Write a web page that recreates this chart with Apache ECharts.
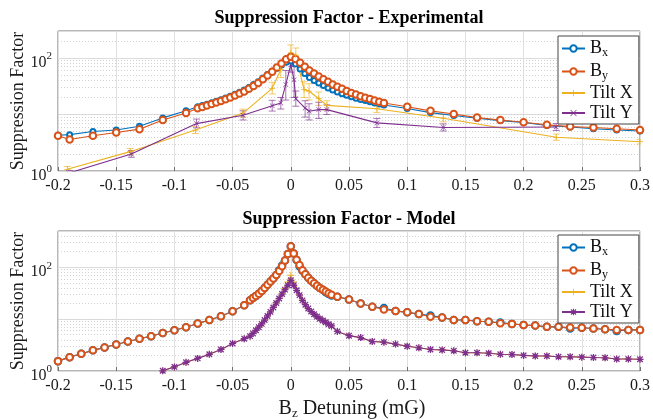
<!DOCTYPE html>
<html><head><meta charset="utf-8">
<script src="https://cdn.jsdelivr.net/npm/echarts@6/dist/echarts.min.js"></script>
<style>html,body{margin:0;padding:0;background:#fff}#c{width:653px;height:420px}</style>
</head><body><div id="c"></div>
<script>
// ---------------- Experimental (top) ----------------
const expLeftX  = [-0.2, -0.19, -0.17, -0.15, -0.13, -0.11, -0.09];
const expBxLeft = [4.3, 4.4, 5.0, 5.3, 6.2, 8.7, 11.6];
const expByLeft = [4.2, 3.6, 4.2, 4.8, 5.5, 8.0, 10.6];
const expDenseX = [-0.08,-0.076,-0.072,-0.068,-0.064,-0.06,-0.056,-0.052,-0.048,-0.044,-0.04,-0.036,-0.032,-0.028,-0.024,-0.02,-0.016,-0.012,-0.008,-0.004,0,
                   0.004,0.008,0.012,0.016,0.02,0.024,0.028,0.032,0.036,0.04,0.044,0.048,0.052,0.056,0.06,0.064,0.068,0.072,0.076,0.08];
const expBxDense = [13.7,14.4,15.2,16.1,17.1,18.2,19.5,21,22.8,24.8,27,30,34,38,44,51,58,66,75,84,88,
                    78,64,53,45,40,36,32.5,29.5,27,25,23.2,21.8,20.5,19.4,18.5,17.6,16.8,16,15.3,14.7];
const expByDense = [12.9,13.6,14.4,15.3,16.3,17.4,18.6,20,21.6,23.5,25.6,28.5,32,36,42,49,57,68,80,95,105,
                    96,82,70,60,53,47,42,38,34,31,28.5,26,24,22.5,21,19.8,18.7,17.7,16.8,16];
const expRightX  = [0.1, 0.12, 0.14, 0.16, 0.18, 0.2, 0.22, 0.24, 0.26, 0.28, 0.3];
const expBxRight = [12.8, 10.8, 9.6, 8.6, 7.8, 7.2, 6.4, 6.0, 5.6, 5.3, 5.1];
const expByRight = [13.7, 11.6, 10.2, 8.8, 8.0, 7.3, 6.6, 6.1, 5.9, 5.6, 5.3];

const expTxX  = [-0.192,-0.138,-0.082,-0.041,-0.016,-0.0086,0,0.0043,0.0114,0.0157,0.024,0.031,0.074,0.131,0.228,0.3];
const expTxY  = [1.07, 2.2, 5.3, 10.6, 29, 62, 125, 112, 27.5, 26, 19, 14.5, 12.6, 8.6, 3.95, 3.3];
const expTxLo = [0.95, 1.95, 4.6, 9.0, 23, 45, 92, 85, 20, 18, 14.5, 12, 10.8, 7.4, 3.5, 3.0];
const expTxHi = [1.2, 2.5, 6.1, 12.4, 37, 85, 170, 150, 38, 35, 25, 17.5, 14.8, 10, 4.5, 3.6];

const expTyX  = [-0.19,-0.137,-0.081,-0.041,-0.016,-0.0086,-0.0043,0,0.0028,0.0043,0.0123,0.0157,0.024,0.031,0.074,0.131,0.228];
const expTyY  = [0.93, 2.0, 6.9, 9.7, 14.3, 16, 34, 76, 41, 19, 13, 11.4, 12.2, 12.2, 7.1, 5.9, 6.0];
const expTyLo = [0.85, 1.75, 5.8, 8.0, 11.5, 12.5, 18, 56, 20, 14, 9, 8, 8.5, 10, 5.9, 5.1, 5.2];
const expTyHi = [1.02, 2.3, 8.3, 11.6, 17.8, 20, 60, 105, 72, 26, 17.5, 15.5, 16.5, 14.8, 8.5, 6.8, 6.9];

// ---------------- Model (bottom) ----------------
const modLeftX  = [-0.2,-0.19,-0.18,-0.17,-0.16,-0.15,-0.14,-0.13,-0.12,-0.11,-0.1,-0.09,-0.08,-0.07,-0.06,-0.05,-0.04];
const modByLeft = [1.55,1.85,2.15,2.5,2.85,3.25,3.7,4.2,4.7,5.4,6.1,7.0,8.2,9.6,11.4,14.2,18.6];
const modBxLeft = [1.55,1.85,2.15,2.5,2.85,3.25,3.7,4.2,4.7,5.4,6.1,7.0,8.2,9.6,11.4,14.2,18.6];
const modDenseX = [-0.035,-0.0325,-0.03,-0.0275,-0.025,-0.0225,-0.02,-0.0175,-0.015,-0.0125,-0.01,-0.0075,-0.005,-0.0025,0,
                   0.0025,0.005,0.0075,0.01,0.0125,0.015,0.0175,0.02,0.0225,0.025,0.0275,0.03,0.0325,0.035];
const modByDense = [23,25.5,28,31,35,40,46,53,61,71,85,105,135,180,255,185,140,110,88,73,63,55,49,44,40,37,34,31.5,29.5];
const modBxDense = [23,25.5,28,31,35,40,46,53,61,71,88,108,135,180,255,185,138,104,86,73,63,55,49,44,40,37,33,30.5,28.5];
const modRightX  = [0.04,0.05,0.06,0.07,0.08,0.09,0.1,0.11,0.12,0.13,0.14,0.15,0.16,0.17,0.18,0.19,0.2,0.21,0.22,0.23,0.24,0.25,0.26,0.27,0.28,0.29,0.3];
const modByRight = [27,24,20,17.3,15.4,14.4,13.5,12.5,11.1,10.8,9.6,9.6,9.1,8.9,8.3,8.1,7.7,7.5,7.1,7.1,6.9,6.8,6.6,6.4,6.2,6.2,6.2];
const modBxRight = [27,24,20,17.3,16.3,14.4,13.5,12.5,11.7,10.8,9.6,9.6,9.1,8.9,8.6,8.1,7.7,7.5,7.1,7.1,6.6,6.8,6.6,6.4,5.9,6.2,6.2];

const modTiltLeftX = [-0.11,-0.1,-0.09,-0.08,-0.07,-0.06,-0.05,-0.04];
const modTyLeft = [1.01,1.2,1.47,1.75,2.1,2.6,3.4,4.2];
const modTxLeft = [1.01,1.2,1.47,1.75,2.1,2.6,3.4,4.2];
const modTyDense = [4.7,5.3,6.1,7.0,8.1,9.6,11.5,13.8,16.8,20.5,25,30.5,37,45,56,45,36,29,23,19,16,14,12.4,11.2,10.2,9.4,8.7,8.0,7.4];
const modTxDense = [4.7,5.3,6.1,7.0,8.1,9.6,11.5,13.8,16.8,20.5,25,31,39,52,70,52,39,30,23.5,19,16,14,12.4,11.2,10.2,9.4,8.7,8.0,7.4];
const modTyRight = [5.8,4.8,4.4,3.7,3.6,3.3,3.0,2.8,2.6,2.55,2.45,2.25,2.25,2.2,2.1,2.08,2.0,1.95,1.95,1.88,1.88,1.85,1.82,1.8,1.7,1.7,1.68];
const modTxRight = [5.8,4.8,4.4,3.7,3.6,3.3,3.0,2.8,2.6,2.55,2.45,2.25,2.25,2.2,2.1,2.08,2.0,1.95,1.95,1.88,1.88,1.85,1.82,1.8,1.7,1.7,1.68];

// axis / grid lines
const minorTop = [2,3,4,5,6,7,8,9,10,20,30,40,50,60,70,80,90,200];
const minorBot = [2,3,4,5,6,7,8,9,10,20,30,40,50,60,70,80,90,200,300,400];

// ---------------- styling ----------------
const C = {bx:'#0072BD', by:'#D95319', tx:'#EDB120', ty:'#7E2F8E'};
const FONT = 'Liberation Serif';
const SYM_PLUS = 'path://M4.4,0H5.6V4.4H10V5.6H5.6V10H4.4V5.6H0V4.4H4.4Z';
const SYM_X = 'path://M0,0.8L0.8,0L5,4.2L9.2,0L10,0.8L5.8,5L10,9.2L9.2,10L5,5.8L0.8,10L0,9.2L4.2,5Z';
const SYM_STAR = 'path://M4.1,0H5.9V4.1H10V5.9H5.9V10H4.1V5.9H0V4.1H4.1Z M0.4,1.7L1.7,0.4L5,3.7L8.3,0.4L9.6,1.7L6.3,5L9.6,8.3L8.3,9.6L5,6.3L1.7,9.6L0.4,8.3L3.7,5Z';

function zip(xs, ys){ return xs.map((x,i)=>[x, ys[i]]); }
function zip3(xs, a, b){ return xs.map((x,i)=>[x, a[i], b[i]]); }

function lineS(name, idx, xs, ys, color, symbol, size){
  const empty = symbol === 'emptyCircle';
  return {
    name, type:'line', xAxisIndex:idx, yAxisIndex:idx, data: zip(xs, ys),
    symbol, symbolSize:size, showAllSymbol:true, clip:true, z:3,
    lineStyle:{color, width:1.1},
    itemStyle: empty ? {color, borderColor:color, borderWidth:0.8} : {color, borderWidth:0},
    emphasis:{disabled:true}, animation:false
  };
}
function errS(idx, xs, lo, hi, color){
  return {
    type:'custom', xAxisIndex:idx, yAxisIndex:idx, data: zip3(xs, lo, hi), clip:true, z:3,
    encode:{x:0, y:[1,2]}, silent:true, animation:false,
    renderItem(params, api){
      const x = api.value(0), l = api.value(1), h = api.value(2);
      const a = api.coord([x, l]), b = api.coord([x, h]);
      const w = 3.5, st = {stroke:color, lineWidth:1, opacity:0.65};
      return {type:'group', children:[
        {type:'line', shape:{x1:a[0],y1:a[1],x2:b[0],y2:b[1]}, style:st},
        {type:'line', shape:{x1:a[0]-w,y1:a[1],x2:a[0]+w,y2:a[1]}, style:st},
        {type:'line', shape:{x1:b[0]-w,y1:b[1],x2:b[0]+w,y2:b[1]}, style:st}
      ]};
    }
  };
}
function minorS(idx, list){
  return {
    type:'line', xAxisIndex:idx, yAxisIndex:idx, data:[], silent:true, z:1,
    markLine:{silent:true, symbol:['none','none'], z:1, animation:false, label:{show:false},
      lineStyle:{color:'#d2d2d2', type:[1,2], width:1}, emphasis:{disabled:true},
      data: list.map(v=>({yAxis:v}))}
  };
}

const grids = [
  {left:58, top:31, width:582, height:140, show:true, borderColor:'#707070', borderWidth:1},
  {left:58, top:231, width:582, height:140, show:true, borderColor:'#707070', borderWidth:1}
];
function xAx(idx){
  return {type:'value', gridIndex:idx, min:-0.2, max:0.3, interval:0.05,
    axisLine:{show:false}, axisTick:{show:true, inside:true, length:4, lineStyle:{color:'#707070'}},
    splitLine:{show:true, lineStyle:{color:'#e0e0e0', width:1}},
    axisLabel:{fontFamily:FONT, fontSize:16, color:'#1a1a1a', margin:7,
      formatter:v=>String(+(+v).toFixed(3))}};
}
function yAx(idx, max){
  return {type:'log', logBase:10, gridIndex:idx, min:1, max:max,
    axisLine:{show:false}, axisTick:{show:false},
    splitLine:{show:true, lineStyle:{color:'#dcdcdc', width:1}},
    axisLabel:{fontFamily:FONT, fontSize:16, color:'#1a1a1a', margin:6, align:'right',
      formatter:v=>{ const e=Math.log10(v), r=Math.round(e);
        if (Math.abs(e-r)<1e-6 && r%2===0) return '{n|10}{s|'+r+'}'; return ''; },
      rich:{n:{fontFamily:FONT, fontSize:16, color:'#1a1a1a', lineHeight:16, padding:[9,0,0,0]},
            s:{fontFamily:FONT, fontSize:11, color:'#1a1a1a', lineHeight:16, padding:[0,0,3,0]}}}};
}
const legendRich = {
  m:{fontFamily:FONT, fontSize:18, color:'#111', lineHeight:18},
  s:{fontFamily:FONT, fontSize:12, color:'#111', lineHeight:18, padding:[9,0,0,0]}
};
const legendNames = {Bx:'{m|B}{s|x}', By:'{m|B}{s|y}', TX:'{m|Tilt X}', TY:'{m|Tilt Y}',
                     Bx2:'{m|B}{s|x}', By2:'{m|B}{s|y}', TX2:'{m|Tilt X}', TY2:'{m|Tilt Y}'};
function legend(top, names){
  return {data:names, orient:'vertical', left:558, top:top, selectedMode:false,
    backgroundColor:'#fff', borderColor:'#444', borderWidth:1, padding:[2,6,2,3],
    itemGap:2, itemWidth:23, itemHeight:8,
    formatter:n=>legendNames[n], textStyle:{fontFamily:FONT, fontSize:18, color:'#111', rich:legendRich}};
}

const option = {
  animation:false,
  backgroundColor:'#fff',
  grid: grids,
  xAxis:[xAx(0), xAx(1)],
  yAxis:[yAx(0,300), yAx(1,500)],
  legend:[legend(36, ['Bx','By','TX','TY']), legend(235, ['Bx2','By2','TX2','TY2'])],
  series:[
    minorS(0, minorTop), minorS(1, minorBot),
    lineS('Bx', 0, expLeftX.concat(expDenseX, expRightX), expBxLeft.concat(expBxDense, expBxRight), C.bx, 'emptyCircle', 5),
    lineS('By', 0, expLeftX.concat(expDenseX, expRightX), expByLeft.concat(expByDense, expByRight), C.by, 'emptyCircle', 6.5),
    errS(0, expTxX, expTxLo, expTxHi, C.tx),
    lineS('TX', 0, expTxX, expTxY, C.tx, SYM_PLUS, 6),
    errS(0, expTyX, expTyLo, expTyHi, C.ty),
    lineS('TY', 0, expTyX, expTyY, C.ty, SYM_X, 5),
    lineS('Bx2', 1, modLeftX.concat(modDenseX, modRightX), modBxLeft.concat(modBxDense, modBxRight), C.bx, 'emptyCircle', 6.5),
    lineS('By2', 1, modLeftX.concat(modDenseX, modRightX), modByLeft.concat(modByDense, modByRight), C.by, 'emptyCircle', 6.5),
    lineS('TX2', 1, modTiltLeftX.concat(modDenseX, modRightX), modTxLeft.concat(modTxDense, modTxRight), C.tx, SYM_PLUS, 7),
    lineS('TY2', 1, modTiltLeftX.concat(modDenseX, modRightX), modTyLeft.concat(modTyDense, modTyRight), C.ty, SYM_STAR, 7)
  ],
  graphic:[
    {type:'text', x:349, y:18, style:{text:'Suppression Factor - Experimental', fontFamily:FONT, fontSize:18, fontWeight:'bold', fill:'#000', align:'center', verticalAlign:'middle'}},
    {type:'text', x:349, y:219, style:{text:'Suppression Factor - Model', fontFamily:FONT, fontSize:18, fontWeight:'bold', fill:'#000', align:'center', verticalAlign:'middle'}},
    {type:'text', x:18, y:101, rotation:Math.PI/2, style:{text:'Suppression Factor', fontFamily:FONT, fontSize:18, fill:'#1a1a1a', align:'center', verticalAlign:'middle'}},
    {type:'text', x:18, y:301, rotation:Math.PI/2, style:{text:'Suppression Factor', fontFamily:FONT, fontSize:18, fill:'#1a1a1a', align:'center', verticalAlign:'middle'}},
    {type:'text', x:352, y:409, style:{text:'{m|B}{s|z}{m| Detuning (mG)}', align:'center', verticalAlign:'middle',
      rich:{m:{fontFamily:FONT, fontSize:20, fill:'#1a1a1a', color:'#1a1a1a', lineHeight:20},
            s:{fontFamily:FONT, fontSize:13, fill:'#1a1a1a', color:'#1a1a1a', lineHeight:20, padding:[9,0,0,0]}}}}
  ]
};
const chart = echarts.init(document.getElementById('c'), null, {renderer:'canvas'});
chart.setOption(option);
</script></body></html>
